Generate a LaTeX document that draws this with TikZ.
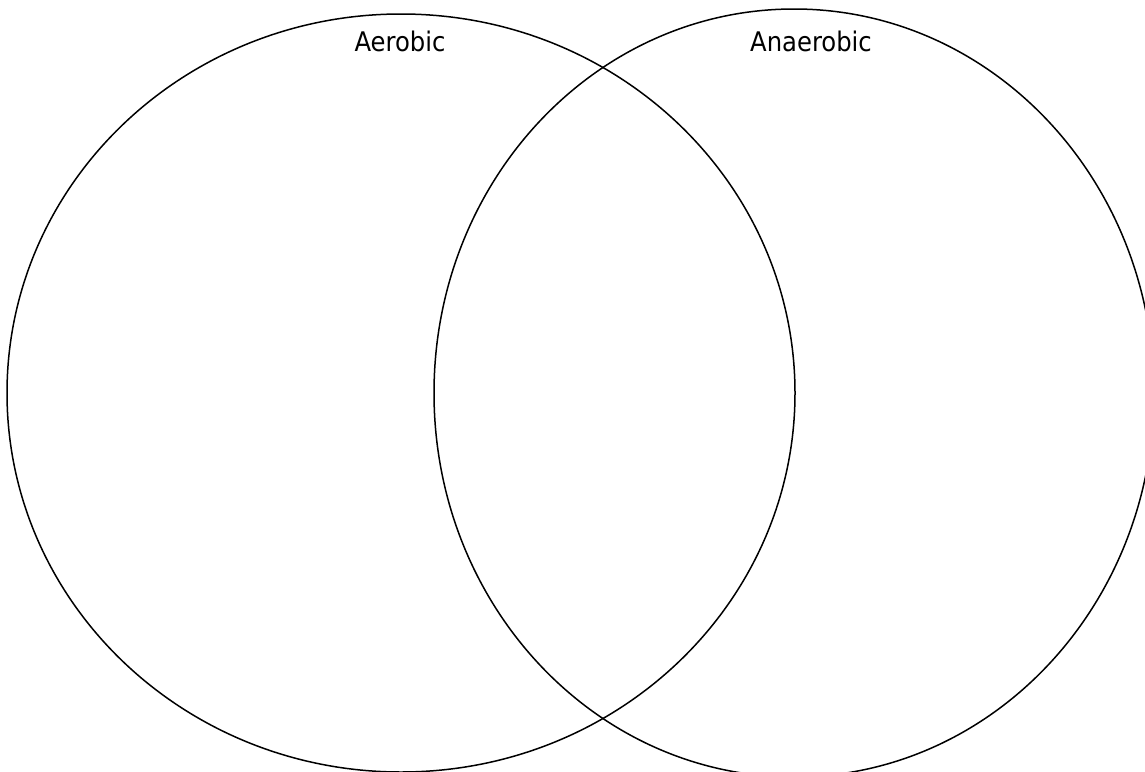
\documentclass[tikz,border=0pt]{standalone}
\usepackage{fontspec}
\setmainfont{DejaVu Sans Condensed}
\usepackage{xcolor}
\usepackage{tikz}
\usetikzlibrary{positioning,shapes.geometric}
\definecolor{ink}{HTML}{000000}
\tikzset{
  setring/.style ={ellipse,draw=ink,line width=1.5pt,inner sep=0pt},
  setlabel/.style={inner sep=0pt,anchor=base,font=\fontsize{27}{32}\selectfont,text=ink}
}
\begin{document}
\begin{tikzpicture}[x=1pt,y=-1pt]
    \useasboundingbox (0,0) rectangle (1145,771);
    \clip (0,0) rectangle (1145,771);
    \node[setring,minimum width=788pt,minimum height=758pt] (aer) at (401,393) {};
    \node[setring,minimum width=720pt,minimum height=768pt] (anaer) at (794,393) {};
    \node[setlabel] (aerlbl) at (400,51) {Aerobic};
    \node[setlabel] (anaerlbl) at (811,51) {Anaerobic};
  \end{tikzpicture}
\end{document}
